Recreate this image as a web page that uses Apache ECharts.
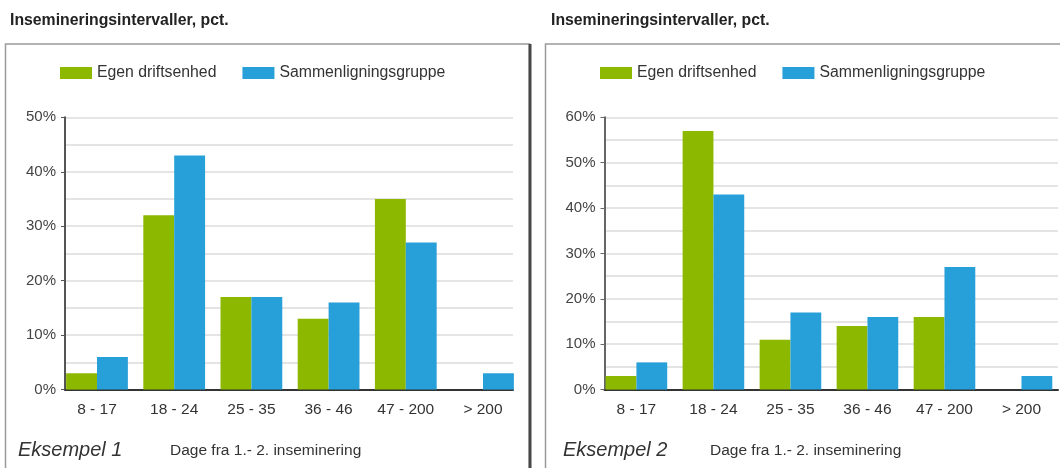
<!DOCTYPE html>
<html>
<head>
<meta charset="utf-8">
<script src="https://cdn.jsdelivr.net/npm/echarts@6/dist/echarts.min.js"></script>
<style>
  html, body { margin: 0; padding: 0; background: #fff; }
  #chart { width: 1060px; height: 468px; }
</style>
</head>
<body>
<div id="chart"></div>
<script>
// ---- Data ----
const categories = ['8 - 17', '18 - 24', '25 - 35', '36 - 46', '47 - 200', '> 200'];
const seriesNames = ['Egen driftsenhed', 'Sammenligningsgruppe'];
const chartTitle = 'Insemineringsintervaller, pct.';
const footerNote = 'Dage fra 1.- 2. inseminering';

const ex1Label = 'Eksempel 1';
const ex1Egen = [3, 32, 17, 13, 35, 0];
const ex1Sammen = [6, 43, 17, 16, 27, 3];
const ex1YMax = 50;

const ex2Label = 'Eksempel 2';
const ex2Egen = [3, 57, 11, 14, 16, 0];
const ex2Sammen = [6, 43, 17, 16, 27, 3];
const ex2YMax = 60;

// ---- Styles ----
const GREEN = '#8cb800';
const BLUE = '#279fd9';
const FONT = '"Liberation Sans", Arial, sans-serif';

const chart = echarts.init(document.getElementById('chart'), null, { renderer: 'canvas' });

const TOP = 117.3;
const BOTTOM = 389.6;
const H = BOTTOM - TOP;

const panels = [
  { axisLeft: 65, axisRight: 513, barLeft: 58.4, barWidth: 463.2, ymax: ex1YMax, egen: ex1Egen, sammen: ex1Sammen, axisColor: '#555' },
  { axisLeft: 604.5, axisRight: 1058, barLeft: 597.9, barWidth: 463.2, ymax: ex2YMax, egen: ex2Egen, sammen: ex2Sammen, axisColor: '#666' }
];

const grid = [], xAxis = [], yAxis = [], series = [];
panels.forEach((p) => {
  const gAxis = grid.length;
  grid.push({ left: p.axisLeft, top: TOP, width: p.axisRight - p.axisLeft, height: H, containLabel: false });
  const gBar = grid.length;
  grid.push({ left: p.barLeft, top: TOP, width: p.barWidth, height: H, containLabel: false });

  xAxis.push({
    gridIndex: gAxis, type: 'category', data: categories,
    axisLine: { show: true, lineStyle: { color: '#333', width: 2 } },
    axisTick: { show: false }, axisLabel: { show: false }, splitLine: { show: false }
  });
  yAxis.push({
    gridIndex: gAxis, type: 'value', min: 0, max: p.ymax, interval: 10,
    axisLine: { show: true, lineStyle: { color: p.axisColor, width: 2 } },
    axisTick: { show: true, length: 4, lineStyle: { color: p.axisColor } },
    axisLabel: { formatter: '{value}%', color: '#444', fontSize: 15, fontFamily: FONT, margin: 9 },
    splitLine: { show: true, lineStyle: { color: '#dcdcdc', width: 1.5 } },
    minorTick: { show: false, splitNumber: 2 },
    minorSplitLine: { show: true, lineStyle: { color: '#dcdcdc', width: 1.5 } }
  });

  xAxis.push({
    gridIndex: gBar, type: 'category', data: categories,
    axisLine: { show: false }, axisTick: { show: false },
    axisLabel: { color: '#333', fontSize: 15.5, fontFamily: FONT, margin: 12 },
    splitLine: { show: false }
  });
  yAxis.push({
    gridIndex: gBar, type: 'value', min: 0, max: p.ymax, show: false,
    splitLine: { show: false }
  });

  const xi = xAxis.length - 1, yi = yAxis.length - 1;
  series.push({
    name: seriesNames[0], type: 'bar', xAxisIndex: xi, yAxisIndex: yi,
    data: p.egen, barGap: '0%', barCategoryGap: '20%',
    itemStyle: { color: GREEN }, z: 3
  });
  series.push({
    name: seriesNames[1], type: 'bar', xAxisIndex: xi, yAxisIndex: yi,
    data: p.sammen, barGap: '0%', barCategoryGap: '20%',
    itemStyle: { color: BLUE }, z: 3
  });
});

const legendCommon = {
  itemWidth: 32, itemHeight: 12, itemGap: 26, icon: 'rect', top: 60,
  textStyle: { color: '#333', fontSize: 15.8, fontFamily: FONT }, data: seriesNames,
  selectedMode: false
};

const titleStyle = { fontSize: 15.8, fontWeight: 'bold', color: '#222', fontFamily: FONT };

const option = {
  animation: false,
  backgroundColor: '#fff',
  title: [
    { text: chartTitle, left: 5, top: 8, textStyle: titleStyle },
    { text: chartTitle, left: 546, top: 8, textStyle: titleStyle }
  ],
  legend: [
    Object.assign({ left: 55 }, legendCommon),
    Object.assign({ left: 595 }, legendCommon)
  ],
  grid, xAxis, yAxis, series,
  graphic: [
    { type: 'rect', shape: { x: 5.5, y: 44, width: 524, height: 440 }, style: { fill: null, stroke: '#9a9a9a', lineWidth: 1.5 }, z: -1, silent: true },
    { type: 'rect', shape: { x: 528.5, y: 44, width: 3, height: 430 }, style: { fill: '#474747' }, z: -1, silent: true },
    { type: 'rect', shape: { x: 545.5, y: 44, width: 540, height: 440 }, style: { fill: null, stroke: '#9a9a9a', lineWidth: 1.5 }, z: -1, silent: true },
    { type: 'text', left: 18, top: 440, style: { text: ex1Label, fontSize: 20, fontStyle: 'italic', fill: '#333', fontFamily: FONT } },
    { type: 'text', left: 170, top: 443, style: { text: footerNote, fontSize: 15.5, fill: '#333', fontFamily: FONT } },
    { type: 'text', left: 563, top: 440, style: { text: ex2Label, fontSize: 20, fontStyle: 'italic', fill: '#333', fontFamily: FONT } },
    { type: 'text', left: 710, top: 443, style: { text: footerNote, fontSize: 15.5, fill: '#333', fontFamily: FONT } }
  ]
};

chart.setOption(option);
</script>
</body>
</html>
